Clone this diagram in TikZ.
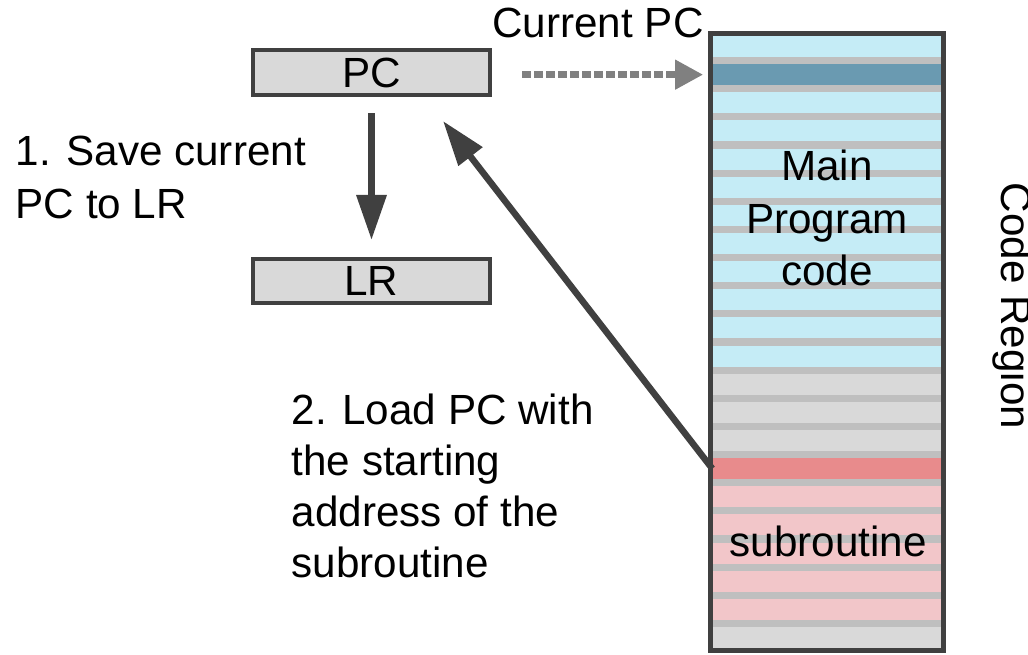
\documentclass[tikz,border=0pt]{standalone}
\usepackage{fontspec}
\setmainfont{Liberation Sans}
\definecolor{regFill}{HTML}{D9D9D9}
\definecolor{regLine}{HTML}{404040}
\definecolor{memBlue}{HTML}{C5ECF6}
\definecolor{memCur}{HTML}{6A9AB1}
\definecolor{memGray}{HTML}{D9D9D9}
\definecolor{memSep}{HTML}{BFBFBF}
\definecolor{memHit}{HTML}{E88B8C}
\definecolor{memSub}{HTML}{F2C6C9}
\definecolor{curGray}{HTML}{808080}
\usetikzlibrary{arrows.meta,positioning}

\tikzset{
  regbox/.style={draw=regLine, fill=regFill, line width=0.04cm, minimum width=2.37cm, minimum height=0.45cm, inner sep=0pt},
  memrow/.style={minimum width=2.28cm, minimum height=0.21cm, inner sep=0pt},
  note/.style={align=left, inner sep=0pt},
  flow/.style={draw=regLine, line width=0.065cm, -{Triangle[length=0.45cm, width=0.29cm]}},
  curflow/.style={draw=curGray, line width=0.07cm, dash pattern=on 0.09cm off 0.03cm, -{Triangle[length=0.28cm, width=0.28cm]}}
}

\begin{document}
\begin{tikzpicture}[x=0.01cm, y=-0.01cm, font=\fontsize{12}{14.8}\selectfont]
  \clip (0,0) rectangle (1028,654);

  % registers
  \node[regbox] (pc) at (371.5,72.5) {PC};
  \node[regbox, minimum height=0.44cm] (lr) at (371.5,281) {LR};

  % memory
  \fill[memSep] (713,36) rectangle (941,648);
  \foreach \c [count=\i from 0] in {memBlue,memCur,memBlue,memBlue,memBlue,memBlue,memBlue,memBlue,memBlue,memBlue,memBlue,memBlue,memGray,memGray,memGray,memHit,memSub,memSub,memSub,memSub,memSub,memGray}
    \node[memrow, fill=\c] (row\i) at (827,{46.5+\i*28.14}) {};

  \node[align=center, inner sep=0pt] (main) at (827,218) {Main\\[0.2pt]Program\\[0.2pt]code};
  \node (sub) at (828,541) {subroutine};

  % connectors
  \coordinate (ret) at (443,121);
  \draw[flow, shorten <=0.16cm, shorten >=0.17cm] (pc.south) -- (lr.north);
  \draw[flow] (row15.west) -- (ret);
  \draw[curflow, shorten <=0.30cm, shorten >=0.09cm] (pc.east |- row1.west) -- (row1.west);

  \draw[regLine, line width=0.05cm] (710.5,33.5) rectangle (943,650);

  % labels
  \node[anchor=base] (curpc) at (598,37) {Current PC};
  \node[note, anchor=base west] (save) at (15,218) {1. Save current\\PC to LR};
  \node[note, anchor=base west] (load) at (291,577) {2. Load PC with\\[-0.3pt]the starting\\[-0.3pt]address of the\\[-0.3pt]subroutine};
  \node[rotate=-90, anchor=base] (region) at (1001,306) {Code Region};
\end{tikzpicture}
\end{document}
